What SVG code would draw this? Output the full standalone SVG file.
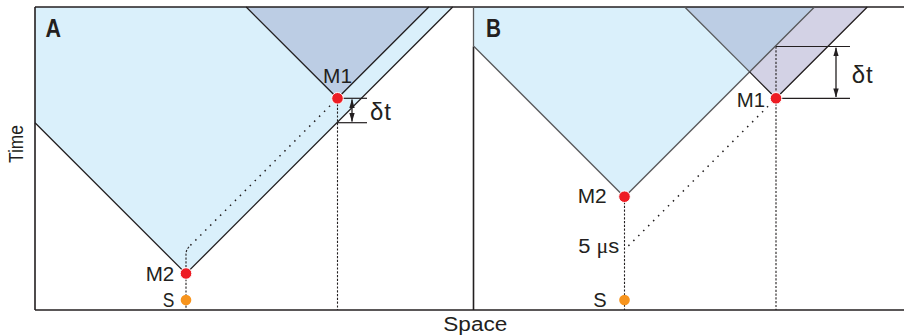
<svg xmlns="http://www.w3.org/2000/svg" width="904" height="336" viewBox="0 0 904 336">
<defs>
<style>
.lt{fill:#daf0fb}
.dk{fill:#bccde4}
.lv{fill:#d3d2e5}
.ln{fill:none;stroke:#231f20;stroke-width:1.3}
.lg{fill:none;stroke:#58595b;stroke-width:1.3}
.ax{fill:none;stroke:#231f20;stroke-width:1.6}
.dot{fill:none;stroke:#231f20;stroke-width:1.5;stroke-dasharray:1.5 5.5}
.dsh{fill:none;stroke:#231f20;stroke-width:1.1;stroke-dasharray:2.2 1.6}
.dt{fill:none;stroke:#231f20;stroke-width:1.2}
.arr{fill:none;stroke:#231f20;stroke-width:1.3;marker-start:url(#ah);marker-end:url(#ah)}
.red{fill:#ed1c24;stroke:#fff;stroke-width:1}
.org{fill:#f7941d}
text{font-family:"Liberation Sans",Arial,sans-serif;fill:#231f20;font-size:20px}
.big{font-weight:bold;font-size:25px}
.delta{font-size:24px;letter-spacing:1px}
</style>
<marker id="ah" viewBox="0 0 10 6" refX="9.5" refY="3" markerWidth="9" markerHeight="5.4" markerUnits="userSpaceOnUse" orient="auto-start-reverse">
<path d="M0,0 L10,3 L0,6 Z" fill="#231f20"/>
</marker>
</defs>

<g id="panelA-regions">
<polygon class="lt" points="35,7 452.7,7 186,273.7 35,122.7"/>
<polygon class="dk" points="246.2,7 428.8,7 337.5,98.3"/>
</g>
<g id="panelB-regions">
<polygon class="lt" points="474,7 814.5,7 624.5,197 474,46.5"/>
<polygon class="lv" points="684.7,7 867.3,7 776,98.3"/>
<polygon class="dk" points="684.7,7 814.5,7 749.6,71.9"/>
</g>

<g id="axes">
<line class="ax" x1="35" y1="7" x2="904" y2="7"/>
<line class="ax" x1="35" y1="310" x2="904" y2="310"/>
<line class="ax" x1="35" y1="7" x2="35" y2="310"/>
<line class="lg" x1="473.5" y1="7" x2="473.5" y2="46.5"/>
<line class="ax" x1="473.5" y1="46.5" x2="473.5" y2="310"/>
</g>

<g id="connectors">
<polyline class="ln" points="35,122.7 186,273.7 452.7,7"/>
<polyline class="ln" points="246.2,7 337.5,98.3 428.8,7"/>
<path class="dot" d="M335,100.8 L190,245.8"/>
<path class="dsh" d="M189,246.8 Q186,250 186,254 L186,268"/>
<line class="dsh" x1="186" y1="279" x2="186" y2="310"/>
<line class="dsh" x1="337.5" y1="104" x2="337.5" y2="310"/>
<line class="dt" x1="337.5" y1="98.3" x2="367" y2="98.3"/>
<line class="dt" x1="337.5" y1="122.7" x2="367" y2="122.7"/>
<line class="arr" x1="352" y1="99.5" x2="352" y2="121.5"/>

<polyline class="lg" points="474,46.5 624.5,197 814.5,7"/>
<polyline class="lg" points="684.7,7 749.6,71.9"/>
<polyline class="ln" points="749.6,71.9 776,98.3 867.3,7"/>
<path class="dot" d="M773,101.3 L628,246.3"/>
<line class="dsh" x1="624.5" y1="202" x2="624.5" y2="310"/>
<line class="dsh" x1="776" y1="46.5" x2="776" y2="310"/>
<line class="dt" x1="776" y1="46.5" x2="850" y2="46.5"/>
<line class="dt" x1="776" y1="98.3" x2="850" y2="98.3"/>
<line class="arr" x1="836" y1="47.8" x2="836" y2="97"/>
</g>

<g id="A-M1"><circle class="red" cx="337.5" cy="98.3" r="5.8"/><text x="323" y="83" textLength="29" lengthAdjust="spacingAndGlyphs">M1</text></g>
<g id="A-M2"><circle class="red" cx="186" cy="273.5" r="5.8"/><text x="145.7" y="281" textLength="28.6" lengthAdjust="spacingAndGlyphs">M2</text></g>
<g id="A-S"><circle class="org" cx="186" cy="300" r="5.3"/><text x="162.7" y="307" textLength="11.6" lengthAdjust="spacingAndGlyphs">S</text></g>
<g id="B-M1"><circle class="red" cx="776" cy="98.3" r="5.8"/><text x="736.7" y="107.3" textLength="28.3" lengthAdjust="spacingAndGlyphs">M1</text></g>
<g id="B-M2"><circle class="red" cx="624.5" cy="196.7" r="5.8"/><text x="577.7" y="202.7" textLength="29" lengthAdjust="spacingAndGlyphs">M2</text></g>
<g id="B-5us"><text x="578.3" y="253.3" textLength="41" lengthAdjust="spacingAndGlyphs">5 <tspan font-family="'Liberation Serif',serif">μ</tspan>s</text></g>
<g id="B-S"><circle class="org" cx="624.5" cy="300" r="5.3"/><text x="593.3" y="306.7" textLength="13.4" lengthAdjust="spacingAndGlyphs">S</text></g>

<g id="labels">
<text class="big" x="45.5" y="37" textLength="15.5" lengthAdjust="spacingAndGlyphs">A</text>
<text class="big" x="486" y="37" textLength="15" lengthAdjust="spacingAndGlyphs">B</text>
<text class="delta" x="370" y="120">δt</text>
<text class="delta" x="851.7" y="82.7">δt</text>
<text x="443.3" y="331" textLength="64" lengthAdjust="spacingAndGlyphs">Space</text>
<text transform="translate(23.3,163) rotate(-90)" x="0" y="0" font-size="21" textLength="38" lengthAdjust="spacingAndGlyphs">Time</text>
</g>
</svg>
